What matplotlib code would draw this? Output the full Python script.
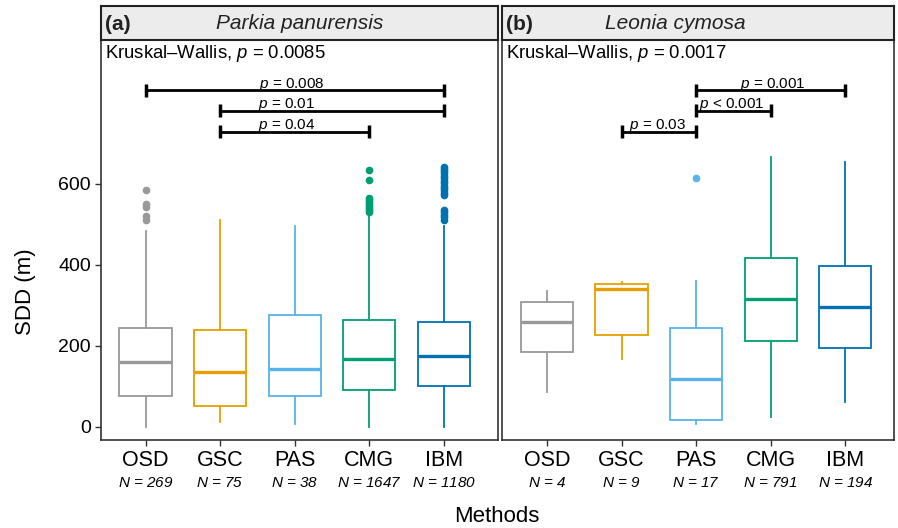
import matplotlib
matplotlib.use('Agg')
import matplotlib.pyplot as plt
from matplotlib.transforms import blended_transform_factory

plt.rcParams['font.family'] = ['Liberation Sans', 'DejaVu Sans']
plt.rcParams['mathtext.fontset'] = 'custom'
plt.rcParams['mathtext.rm'] = 'Liberation Sans'
plt.rcParams['mathtext.it'] = 'Liberation Sans:italic'

NARROW = ['Liberation Sans Narrow', 'Liberation Sans', 'DejaVu Sans']

# ---------------- data ----------------
methods = ['OSD', 'GSC', 'PAS', 'CMG', 'IBM']
colors = ['#999999', '#E69F00', '#56B4E9', '#009E73', '#0072B2']

# Panel (a) Parkia panurensis
a_n = [269, 75, 38, 1647, 1180]
a_whislo = [0, 12, 6, 0, 0]
a_q1 = [76, 52, 76, 91, 100]
a_med = [159, 134, 143, 167, 176]
a_q3 = [244, 239, 275, 265, 260]
a_whishi = [485, 510, 495, 527, 495]
a_fliers_osd = [586, 550, 542, 520, 512]
a_fliers_gsc = []
a_fliers_pas = []
a_fliers_cmg = [635, 611, 565, 560, 555, 550, 545, 540, 535, 530]
a_fliers_ibm = [643, 638, 632, 626, 620, 614, 608, 602, 596, 590, 584, 578,
                573, 536, 530, 524, 518, 512]
a_kw = '0.0085'
a_sig_pairs = [(1, 5), (2, 5), (2, 4)]
a_sig_labels = ['= 0.008', '= 0.01', '= 0.04']
a_sig_label_x = [2.96, 2.89, 2.90]

# Panel (b) Leonia cymosa
b_n = [4, 9, 17, 791, 194]
b_whislo = [87, 167, 6, 25, 60]
b_q1 = [184, 226, 17, 212, 195]
b_med = [258, 340, 119, 316, 296]
b_q3 = [309, 353, 244, 416, 397]
b_whishi = [335, 357, 361, 666, 654]
b_fliers_osd = []
b_fliers_gsc = []
b_fliers_pas = [615]
b_fliers_cmg = []
b_fliers_ibm = []
b_kw = '0.0017'
b_sig_pairs = [(3, 5), (3, 4), (2, 3)]
b_sig_labels = ['= 0.001', '< 0.001', '= 0.03']
b_sig_label_x = [4.03, 3.48, 2.48]

sig_heights = [832, 781, 729]

# ---------------- layout ----------------
W, H = 898, 528
fig = plt.figure(figsize=(W / 100, H / 100), dpi=100)


def fbox(l, t, r, b):
    return [l / W, 1 - b / H, (r - l) / W, (b - t) / H]


panels = [
    dict(rect=(100.5, 40, 498, 440), n=a_n, lo=a_whislo, q1=a_q1, med=a_med,
         q3=a_q3, hi=a_whishi,
         fl=[a_fliers_osd, a_fliers_gsc, a_fliers_pas, a_fliers_cmg, a_fliers_ibm],
         kw=a_kw, pairs=a_sig_pairs, labels=a_sig_labels, lx=a_sig_label_x,
         tag='(a)', title='Parkia panurensis', title_x=300,
         xlim=(0.396, 5.728), yt=True),
    dict(rect=(502, 40, 893.5, 440), n=b_n, lo=b_whislo, q1=b_q1, med=b_med,
         q3=b_q3, hi=b_whishi,
         fl=[b_fliers_osd, b_fliers_gsc, b_fliers_pas, b_fliers_cmg, b_fliers_ibm],
         kw=b_kw, pairs=b_sig_pairs, labels=b_sig_labels, lx=b_sig_label_x,
         tag='(b)', title='Leonia cymosa', title_x=675.5,
         xlim=(0.397, 5.646), yt=False),
]

ylim = (-32.9, 956)
px_per_unit = 400 / (ylim[1] - ylim[0])

for P in panels:
    l, t, r, b = P['rect']
    ax = fig.add_axes(fbox(l, t, r, b))
    for i in range(5):
        st = dict(whislo=P['lo'][i], q1=P['q1'][i], med=P['med'][i],
                  q3=P['q3'][i], whishi=P['hi'][i], fliers=P['fl'][i])
        c = colors[i]
        ax.bxp([st], positions=[i + 1], widths=0.70, showfliers=True,
               patch_artist=True, showcaps=False,
               boxprops=dict(facecolor='white', edgecolor=c, linewidth=1.3),
               whiskerprops=dict(color=c, linewidth=1.3),
               medianprops=dict(color=c, linewidth=2.4),
               flierprops=dict(marker='o', markerfacecolor=c,
                               markeredgecolor=c, markersize=4.5))
    ax.set_xlim(*P['xlim'])
    ax.set_ylim(*ylim)
    ax.set_xticks(range(1, 6))
    ax.set_xticklabels(methods, fontsize=15.5, family=NARROW)
    ax.tick_params(axis='x', length=4, width=1, pad=3, color='#333333')
    if P['yt']:
        ax.set_yticks([0, 200, 400, 600])
        ax.tick_params(axis='y', length=4, width=1, labelsize=14, pad=3,
                       color='#333333')
    else:
        ax.set_yticks([])
    for s in ax.spines.values():
        s.set_color('#333333')
        s.set_linewidth(1.2)

    # N labels
    tr = blended_transform_factory(ax.transData, ax.transAxes)
    for i, n in enumerate(P['n']):
        ax.text(i + 1, -0.107, r'$\mathit{N}$' + ' = %d' % n, transform=tr,
                ha='center', va='center', fontsize=11, family=NARROW,
                style='italic')

    # Kruskal-Wallis
    ax.text(4.5 / (r - l), (b - 58) / (b - t),
            r'Kruskal–Wallis, $\mathit{p}$ = ' + P['kw'],
            transform=ax.transAxes, ha='left', va='baseline', fontsize=13.3)

    # significance brackets
    h = 6.5 / px_per_unit
    for (x1, x2), lab, lx, y in zip(P['pairs'], P['labels'], P['lx'],
                                    sig_heights):
        ax.plot([x1, x2], [y, y], color='black', lw=2, solid_capstyle='butt',
                clip_on=False)
        for xx in (x1, x2):
            ax.plot([xx, xx], [y - h, y + h], color='black', lw=2.5,
                    solid_capstyle='butt', clip_on=False)
        ax.text(lx, y + 2.5 / px_per_unit, r'$\mathit{p}$ ' + lab,
                ha='center', va='baseline', fontsize=11)

    # strip
    sax = fig.add_axes(fbox(l, 6, r, 40))
    sax.set_facecolor('#ececec')
    sax.set_xticks([])
    sax.set_yticks([])
    for s in sax.spines.values():
        s.set_color('#222222')
        s.set_linewidth(1.5)
    sax.set_xlim(l, r)
    sax.set_ylim(40, 6)
    sax.text(l + 4, 24, P['tag'], ha='left', va='center', fontsize=15,
             fontweight='bold', color='#222222')
    sax.text(P['title_x'], 23.5, P['title'], ha='center', va='center',
             fontsize=15, style='italic', color='#222222')

fig.text(25 / W, 1 - 292 / H, 'SDD (m)', rotation=90, ha='center',
         va='center', fontsize=16)
fig.text(497 / W, 1 - 516 / H, 'Methods', ha='center', va='center',
         fontsize=16, family=NARROW)

fig.savefig('out.png', dpi=100)
